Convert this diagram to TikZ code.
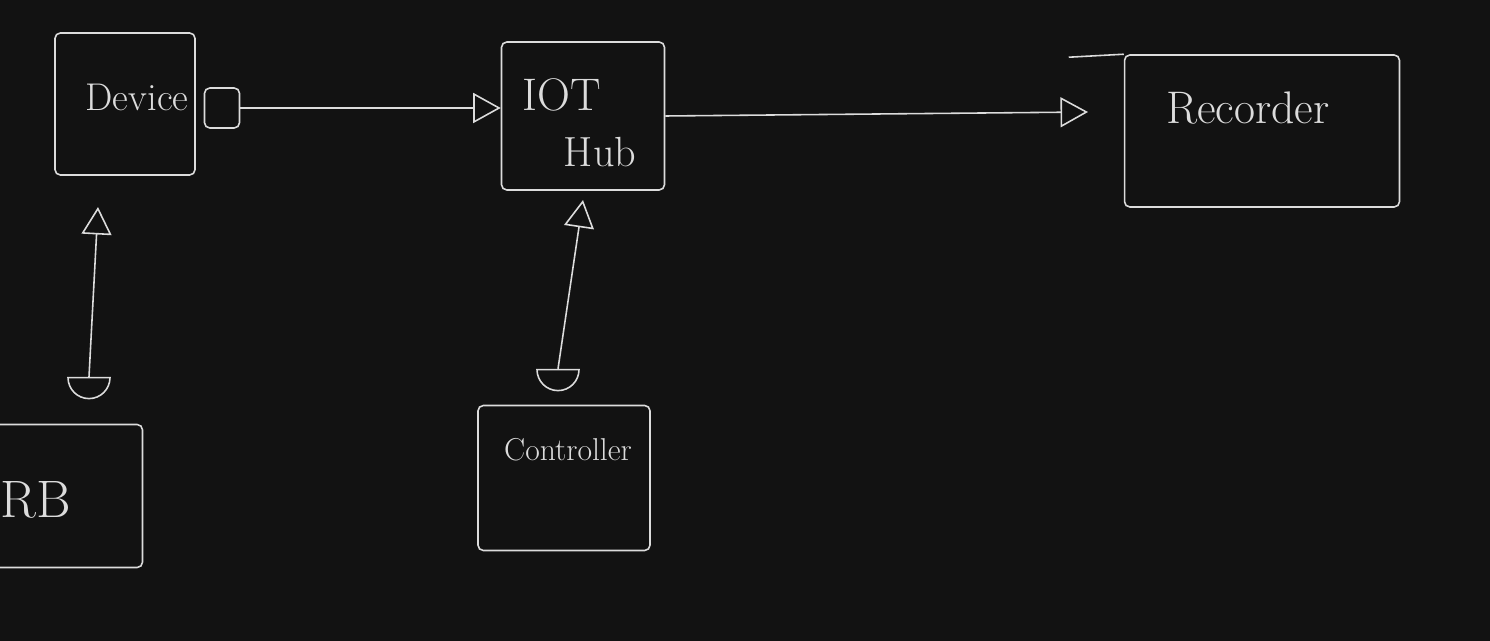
\documentclass[tikz,border=0pt]{standalone}
\usetikzlibrary{arrows.meta,positioning,shapes.geometric}
\definecolor{board}{HTML}{121212}
\definecolor{chalk}{HTML}{DCDCDC}
\tikzset{
  box/.style={draw=chalk,line width=0.9pt,rounded corners=3pt,inner sep=0pt},
  tag/.style={text=chalk,inner sep=0pt,font=\fontsize{#1}{#1}\selectfont},
  tag/.default=22,
  wire/.style={draw=chalk,line width=0.9pt,-{Triangle[open,length=0.55cm,width=0.6cm]}},
  cup/.style={draw=chalk,line width=0.9pt,shape=semicircle,shape border rotate=180,
    inner sep=0pt,minimum size=0.42cm}
}
\begin{document}
\begin{tikzpicture}[x=0.02cm,y=-0.02cm]
    \fill[board] (0,0) rectangle (1490,641);
    \useasboundingbox (0,0) rectangle (1490,641);
    % boxes
    \node[box,minimum width=2.8cm,minimum height=2.84cm] (device) at (125,104) {};
    \node[box,minimum width=0.7cm,minimum height=0.8cm] (port) at (222,108) {};
    \node[box,minimum width=3.26cm,minimum height=2.96cm] (hub) at (583,116) {};
    \node[box,minimum width=5.5cm,minimum height=3.04cm] (rec) at (1262,131) {};
    \node[box,minimum width=3.06cm,minimum height=2.86cm] (rb) at (66,496) {};
    \node[box,minimum width=3.44cm,minimum height=2.9cm] (ctrl) at (564,478) {};
    \draw[chalk,line width=0.9pt] (rec.north west) -- ++(-55,3);
    % texts
    \node[tag] (devtxt) at (137,97) {Device};
    \node[tag=26] (iottxt) at (562,95) {IOT};
    \node[tag=24] (hubtxt) at (600,152) {Hub};
    \node[tag=26] (rectxt) at (1248,108) {Recorder};
    \node[tag=30] (rbtxt) at (36,500) {RB};
    \node[tag=18] (ctrltxt) at (568,450) {Controller};
    % cups under the links
    \node[cup] (rbcup) at (89,386) {};
    \node[cup] (ctrlcup) at (558,378) {};
    \coordinate (recin) at (1088,112);
    \coordinate (devin) at (98,207);
    \coordinate (hubin) at (583,200);
    % links
    \draw[wire] (port.east) -- (port.east -| hub.west);
    \draw[wire] (hub.east) -- (recin);
    \draw[wire] (rbcup.north) -- (devin);
    \draw[wire] (ctrlcup.north) -- (hubin);
\end{tikzpicture}
\end{document}
